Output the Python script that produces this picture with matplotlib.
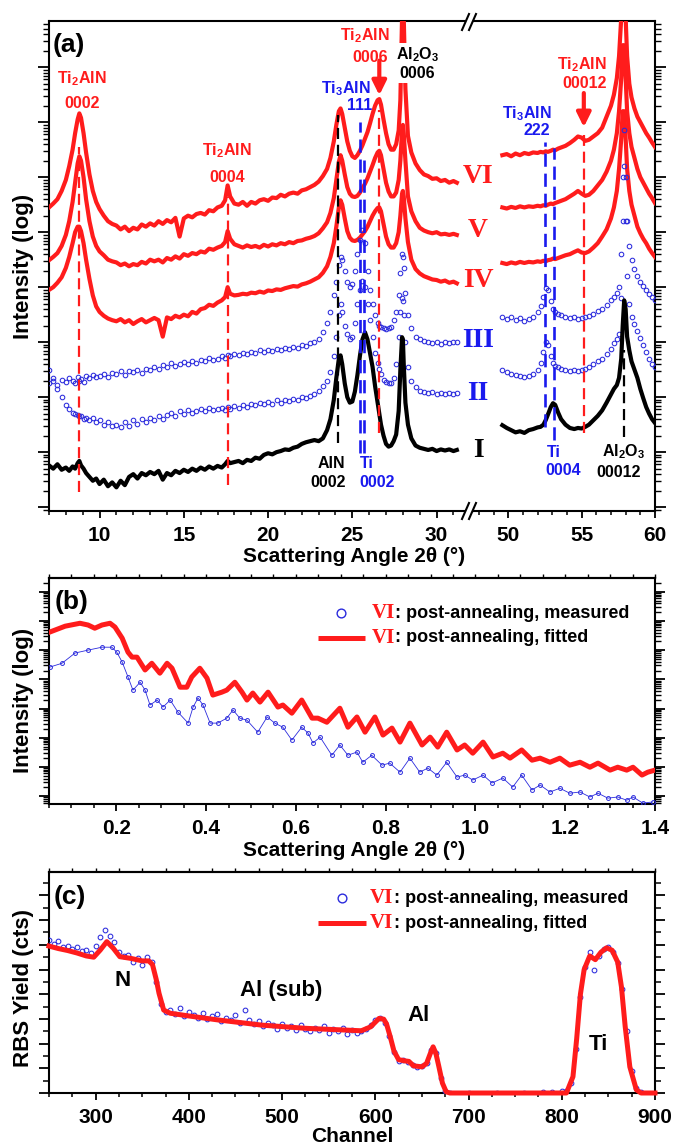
import numpy as np
import matplotlib
matplotlib.use("Agg")
import matplotlib.pyplot as plt
from matplotlib.lines import Line2D
from matplotlib.patches import Polygon
from matplotlib.ticker import MultipleLocator, LogLocator, NullFormatter, FormatStrFormatter

# ======================= DATA =======================
# Panel (a): scattering angle (deg) and log10 intensity (arbitrary offsets)
A_L = [7.0, 7.25, 7.5, 7.75, 8.0, 8.2, 8.4, 8.55, 8.7, 8.8,
       8.9, 9.05, 9.2, 9.4, 9.6, 9.8, 10.0, 10.25, 10.5, 10.75,
       11.0, 11.25, 11.5, 11.75, 12.0, 12.25, 12.5, 12.75, 13.0, 13.25,
       13.5, 13.75, 14.0, 14.25, 14.5, 14.75, 15.0, 15.25, 15.5, 15.75,
       16.0, 16.25, 16.5, 16.75, 17.0, 17.25, 17.45, 17.6, 17.75, 18.0,
       18.25, 18.5, 18.75, 19.0, 19.25, 19.5, 19.75, 20.0, 20.25, 20.5,
       20.75, 21.0, 21.25, 21.5, 21.75, 22.0, 22.25, 22.5, 22.75, 23.0,
       23.25, 23.5, 23.7, 23.9, 24.05, 24.2, 24.3, 24.4, 24.55, 24.7,
       24.85, 25.0, 25.15, 25.3, 25.45, 25.6, 25.75, 25.9, 26.05, 26.2,
       26.35, 26.5, 26.6, 26.7, 26.85, 27.0, 27.15, 27.3, 27.45, 27.6,
       27.75, 27.85, 27.95, 28.0, 28.05, 28.15, 28.3, 28.5, 28.75, 29.0,
       29.25, 29.5, 29.75, 30.0, 30.25, 30.5, 30.75, 31.0, 31.2]

VI_L = [5.45, 5.52, 5.6, 5.75, 5.95, 6.2, 6.5, 6.8, 7.05, 7.16,
        7.08, 6.8, 6.45, 6.05, 5.75, 5.55, 5.42, 5.3, 5.2, 5.15,
        5.12, 5.05, 5.1, 5.02, 5.08, 5.05, 5.14, 5.1, 5.16, 5.12,
        5.2, 5.15, 5.22, 5.18, 5.26, 4.92, 5.25, 5.3, 5.27, 5.33,
        5.35, 5.32, 5.4, 5.38, 5.45, 5.48, 5.58, 5.85, 5.65, 5.52,
        5.5, 5.55, 5.48, 5.55, 5.52, 5.58, 5.6, 5.57, 5.63, 5.62,
        5.68, 5.65, 5.7, 5.72, 5.7, 5.76, 5.78, 5.82, 5.86, 5.92,
        6.02, 6.15, 6.35, 6.65, 6.95, 7.2, 7.25, 7.15, 6.9, 6.65,
        6.48, 6.38, 6.35, 6.4, 6.48, 6.58, 6.7, 6.82, 6.98, 7.15,
        7.3, 7.4, 7.42, 7.32, 7.05, 6.8, 6.6, 6.5, 6.5, 6.6,
        6.85, 7.4, 8.9, 9.6, 8.9, 7.6, 6.75, 6.45, 6.25, 6.13,
        6.05, 6.02, 5.97, 5.98, 5.93, 5.95, 5.9, 5.93, 5.9]

V_L = [4.49, 4.55, 4.62, 4.75, 4.95, 5.2, 5.55, 5.9, 6.25, 6.38,
       6.3, 6.0, 5.6, 5.2, 4.92, 4.75, 4.65, 4.58, 4.5, 4.47,
       4.45, 4.4, 4.43, 4.38, 4.42, 4.4, 4.46, 4.43, 4.5, 4.47,
       4.5, 4.45, 4.53, 4.5, 4.56, 4.52, 4.6, 4.57, 4.62, 4.6,
       4.65, 4.63, 4.7, 4.68, 4.72, 4.75, 4.82, 5.02, 4.88, 4.78,
       4.75, 4.72, 4.76, 4.73, 4.75, 4.72, 4.77, 4.74, 4.78, 4.76,
       4.8, 4.78, 4.82, 4.8, 4.84, 4.85, 4.88, 4.9, 4.93, 4.98,
       5.07, 5.18, 5.35, 5.62, 5.95, 6.28, 6.4, 6.3, 6.05, 5.82,
       5.7, 5.65, 5.64, 5.66, 5.72, 5.8, 5.88, 5.98, 6.1, 6.22,
       6.35, 6.45, 6.48, 6.4, 6.15, 5.9, 5.74, 5.65, 5.65, 5.72,
       5.95, 6.3, 6.85, 6.95, 6.8, 6.3, 5.65, 5.38, 5.2, 5.08,
       5.03, 5.0, 4.98, 5.0, 4.96, 4.97, 4.95, 4.97, 4.95]

IV_L = [3.95, 4.0, 4.08, 4.18, 4.35, 4.55, 4.8, 5.0, 5.1, 5.1,
        5.02, 4.8, 4.5, 4.15, 3.85, 3.65, 3.55, 3.48, 3.43, 3.4,
        3.38, 3.42, 3.36, 3.4, 3.33, 3.38, 3.42, 3.36, 3.4, 3.44,
        3.4, 3.1, 3.45, 3.42, 3.48, 3.45, 3.5, 3.47, 3.55, 3.52,
        3.6, 3.62, 3.68, 3.66, 3.72, 3.76, 3.82, 4.0, 3.88, 3.85,
        3.86, 3.88, 3.87, 3.9, 3.89, 3.92, 3.9, 3.94, 3.93, 3.96,
        3.95, 3.98, 4.0, 4.02, 4.01, 4.05, 4.07, 4.1, 4.14, 4.18,
        4.26, 4.38, 4.55, 4.8, 5.1, 5.45, 5.58, 5.5, 5.25, 5.02,
        4.9, 4.85, 4.84, 4.86, 4.9, 4.96, 5.02, 5.1, 5.2, 5.3,
        5.38, 5.44, 5.45, 5.38, 5.15, 4.92, 4.78, 4.72, 4.72, 4.8,
        5.0, 5.3, 5.7, 5.75, 5.65, 5.25, 4.82, 4.5, 4.33, 4.25,
        4.2, 4.17, 4.14, 4.13, 4.1, 4.12, 4.08, 4.1, 4.07]

III_L = [2.25, 2.3, 2.22, 2.32, 2.28, 2.35, 2.3, 2.26, 2.36, 2.3,
         2.33, 2.28, 2.38, 2.34, 2.4, 2.36, 2.38, 2.42, 2.37, 2.44,
         2.42, 2.47, 2.4, 2.48, 2.45, 2.5, 2.44, 2.52, 2.5, 2.55,
         2.52, 2.58, 2.55, 2.62, 2.57, 2.6, 2.64, 2.6, 2.66, 2.63,
         2.68, 2.65, 2.72, 2.68, 2.7, 2.75, 2.72, 2.76, 2.74, 2.78,
         2.76, 2.8, 2.78, 2.82, 2.8, 2.85, 2.82, 2.86, 2.84, 2.88,
         2.86, 2.9, 2.88, 2.92, 2.9, 2.95, 2.93, 2.98, 3.0, 3.05,
         3.18, 3.35, 3.55, 3.85, 4.1, 4.4, 4.55, 4.5, 4.3, 4.1,
         4.0, 4.05, 4.3, 4.6, 4.85, 5.04, 4.8, 4.3, 3.95, 3.7,
         3.5, 3.35, 3.3, 3.28, 3.25, 3.24, 3.25, 3.28, 3.4, 3.55,
         3.85, 4.25, 4.6, 4.55, 4.35, 3.9, 3.5, 3.25, 3.1, 3.05,
         3.02, 3.0, 2.98, 3.0, 2.97, 3.0, 2.98, 3.01, 3.0]

II_L = [2.5, 2.35, 2.15, 2.0, 1.85, 1.78, 1.72, 1.7, 1.68, 1.65,
        1.66, 1.6, 1.63, 1.58, 1.62, 1.55, 1.58, 1.5, 1.55, 1.47,
        1.5, 1.45, 1.55, 1.48, 1.58, 1.52, 1.6, 1.55, 1.62, 1.58,
        1.65, 1.6, 1.68, 1.72, 1.66, 1.74, 1.7, 1.76, 1.72, 1.75,
        1.78, 1.74, 1.8, 1.76, 1.78, 1.8, 1.77, 1.82, 1.79, 1.84,
        1.8, 1.85, 1.83, 1.88, 1.85, 1.9, 1.87, 1.92, 1.88, 1.94,
        1.9, 1.95, 1.93, 1.97, 1.95, 2.0, 1.98, 2.02, 2.06, 2.12,
        2.2, 2.3, 2.45, 2.75, 3.1, 3.5, 3.7, 3.55, 3.3, 3.15,
        3.06, 3.1, 3.35, 3.7, 3.95, 4.12, 4.0, 3.7, 3.4, 3.1,
        2.8, 2.62, 2.52, 2.42, 2.32, 2.27, 2.25, 2.26, 2.35, 2.6,
        3.1, 3.55, 3.8, 3.75, 3.5, 3.0, 2.55, 2.3, 2.18, 2.12,
        2.1, 2.08, 2.09, 2.06, 2.08, 2.05, 2.07, 2.06, 2.07]

I_L = [0.76, 0.7, 0.78, 0.68, 0.72, 0.66, 0.74, 0.7, 0.8, 0.84,
       0.76, 0.7, 0.62, 0.55, 0.48, 0.52, 0.42, 0.5, 0.38, 0.45,
       0.36, 0.48, 0.4, 0.55, 0.6, 0.52, 0.62, 0.58, 0.64, 0.6,
       0.66, 0.5, 0.62, 0.58, 0.66, 0.62, 0.68, 0.64, 0.7, 0.66,
       0.72, 0.68, 0.74, 0.7, 0.75, 0.72, 0.78, 0.84, 0.8, 0.82,
       0.84, 0.8, 0.86, 0.84, 0.9, 0.88, 0.95, 0.98, 0.96, 1.0,
       1.02, 1.05, 1.04, 1.08, 1.1, 1.15, 1.18, 1.2, 1.22, 1.2,
       1.25, 1.4, 1.6, 1.95, 2.35, 2.7, 2.76, 2.6, 2.25, 2.0,
       1.9, 1.92, 2.1, 2.4, 2.75, 3.05, 3.18, 3.05, 2.8, 2.55,
       2.2, 1.9, 1.7, 1.5, 1.3, 1.15, 1.1, 1.12, 1.2, 1.32,
       1.75, 2.5, 3.09, 3.05, 2.6, 1.9, 1.5, 1.25, 1.12, 1.08,
       1.06, 1.04, 1.06, 1.02, 1.05, 1.03, 1.05, 1.02, 1.04]

A_R = [49.6, 49.9, 50.2, 50.5, 50.8, 51.1, 51.4, 51.7, 52.0, 52.2,
       52.4, 52.55, 52.7, 52.9, 53.05, 53.2, 53.4, 53.6, 53.9, 54.2,
       54.5, 54.75, 55.0, 55.25, 55.5, 55.8, 56.1, 56.4, 56.7, 57.0,
       57.2, 57.4, 57.55, 57.7, 57.8, 57.9, 58.0, 58.1, 58.25, 58.4,
       58.6, 58.8, 59.0, 59.2, 59.4, 59.6, 59.8, 60.0]

VI_R = [6.4, 6.42, 6.38, 6.43, 6.4, 6.44, 6.42, 6.45, 6.44, 6.46,
        6.45, 6.47, 6.46, 6.48, 6.5, 6.49, 6.52, 6.54, 6.57, 6.62,
        6.68, 6.74, 6.72, 6.66, 6.68, 6.74, 6.8, 6.9, 7.1, 7.3,
        7.5, 7.8, 8.2, 8.9, 9.6, 9.6, 8.9, 8.2, 7.7, 7.45,
        7.25, 7.1, 7.0, 6.9, 6.8, 6.72, 6.63, 6.55]
V_R = [5.45, 5.43, 5.46, 5.44, 5.47, 5.45, 5.47, 5.46, 5.48, 5.47,
       5.49, 5.48, 5.5, 5.52, 5.51, 5.53, 5.55, 5.57, 5.6, 5.65,
       5.7, 5.75, 5.7, 5.66, 5.68, 5.75, 5.85, 5.95, 6.1, 6.3,
       6.5, 6.8, 7.2, 7.8, 8.4, 8.4, 7.8, 7.2, 6.8, 6.55,
       6.35, 6.15, 6.0, 5.9, 5.8, 5.7, 5.62, 5.53]
IV_R = [4.44, 4.42, 4.45, 4.43, 4.46, 4.44, 4.46, 4.45, 4.47, 4.46,
        4.48, 4.47, 4.49, 4.5, 4.52, 4.51, 4.53, 4.55, 4.58, 4.6,
        4.64, 4.67, 4.63, 4.62, 4.65, 4.72, 4.8, 4.92, 5.05, 5.25,
        5.45, 5.75, 6.15, 6.7, 7.2, 7.2, 6.7, 6.15, 5.75, 5.5,
        5.3, 5.1, 4.98, 4.88, 4.8, 4.7, 4.62, 4.55]
III_R = [3.45, 3.42, 3.46, 3.4, 3.44, 3.38, 3.42, 3.45, 3.55, 3.65,
         3.82, 3.98, 3.95, 3.75, 3.6, 3.55, 3.52, 3.5, 3.46, 3.44,
         3.45, 3.42, 3.44, 3.46, 3.48, 3.52, 3.56, 3.6, 3.68, 3.76,
         3.82, 3.9, 4.0, 4.6, 6.0, 6.85, 6.0, 5.2, 4.75, 4.5,
         4.33, 4.2, 4.1, 4.02, 3.95, 3.88, 3.82, 3.76]
II_R = [2.49, 2.45, 2.42, 2.4, 2.38, 2.36, 2.38, 2.42, 2.5, 2.62,
        2.82, 3.0, 2.95, 2.75, 2.62, 2.56, 2.55, 2.52, 2.5, 2.48,
        2.49, 2.47, 2.5, 2.52, 2.55, 2.6, 2.65, 2.7, 2.78, 2.88,
        2.98, 3.05, 3.15, 3.8, 5.2, 6.2, 5.2, 4.2, 3.7, 3.45,
        3.33, 3.2, 3.08, 2.95, 2.82, 2.7, 2.6, 2.55]
I_R = [1.49, 1.44, 1.4, 1.36, 1.38, 1.35, 1.4, 1.42, 1.45, 1.46,
       1.5, 1.58, 1.68, 1.82, 1.89, 1.86, 1.72, 1.6, 1.5, 1.44,
       1.42, 1.44, 1.43, 1.46, 1.5, 1.58, 1.66, 1.76, 1.9, 2.05,
       2.15, 2.22, 2.35, 2.7, 3.3, 3.76, 3.6, 3.1, 2.85, 2.65,
       2.5, 2.35, 2.15, 1.98, 1.82, 1.7, 1.6, 1.53]

# reference (peak) lines in (a): angle, log10 bottom, log10 top
LINES_RED_L = [(8.8, 0.27, 6.55), (17.6, 0.40, 5.64), (26.6, 1.35, 7.22)]
LINES_BLK_L = [(24.15, 1.16, 7.13)]
LINES_BLU_L = [(25.45, 0.98, 7.00), (25.68, 0.98, 6.31)]
LINES_RED_R = [(55.15, 1.35, 6.76)]
LINES_BLU_R = [(52.5, 1.45, 6.64), (53.1, 1.22, 6.53)]
LINES_BLK_R = [(57.9, 1.27, 2.85)]

# Panel (b): XRR, angle (deg) and log10 intensity
B_FIT_X = [0.052, 0.086, 0.119, 0.137, 0.152, 0.168, 0.186, 0.197, 0.213, 0.226,
           0.235, 0.246, 0.257, 0.264, 0.279, 0.297, 0.313, 0.324, 0.342, 0.357,
           0.368, 0.386, 0.402, 0.415, 0.435, 0.446, 0.464, 0.48, 0.491, 0.504,
           0.52, 0.538, 0.56, 0.571, 0.591, 0.613, 0.636, 0.649, 0.669, 0.698,
           0.716, 0.736, 0.754, 0.776, 0.794, 0.814, 0.832, 0.854, 0.881, 0.899,
           0.916, 0.936, 0.959, 0.976, 0.994, 1.017, 1.039, 1.061, 1.077, 1.103,
           1.126, 1.144, 1.166, 1.188, 1.21, 1.233, 1.255, 1.273, 1.3, 1.317,
           1.337, 1.351, 1.371, 1.384, 1.4]
B_FIT_Y = [5.62, 5.82, 5.92, 5.86, 5.75, 5.86, 5.92, 5.79, 5.41, 4.93,
           4.76, 4.76, 4.49, 4.32, 4.55, 4.21, 4.55, 4.38, 3.73, 3.73,
           4.08, 4.38, 4.04, 3.46, 3.56, 3.63, 3.9, 3.56, 3.29, 3.53,
           3.22, 3.56, 3.05, 3.12, 2.84, 3.29, 2.67, 2.67, 2.53, 3.01,
           2.36, 2.71, 2.19, 2.71, 2.09, 2.33, 1.85, 2.5, 1.75, 2.02,
           1.68, 2.19, 1.58, 1.75, 1.47, 1.85, 1.34, 1.47, 1.3, 1.58,
           1.23, 1.3, 1.16, 1.3, 1.06, 1.16, 0.99, 1.13, 0.89, 0.99,
           0.89, 0.99, 0.72, 0.82, 0.89]
B_MEAS_X = [0.052, 0.079, 0.108, 0.137, 0.168, 0.19, 0.201, 0.213, 0.226, 0.237,
            0.253, 0.264, 0.275, 0.291, 0.304, 0.32, 0.337, 0.36, 0.371, 0.382,
            0.393, 0.409, 0.426, 0.446, 0.46, 0.475, 0.491, 0.515, 0.536, 0.553,
            0.571, 0.591, 0.613, 0.627, 0.638, 0.654, 0.68, 0.698, 0.716, 0.736,
            0.749, 0.769, 0.792, 0.809, 0.832, 0.854, 0.876, 0.894, 0.914, 0.936,
            0.959, 0.976, 0.994, 1.017, 1.037, 1.061, 1.083, 1.103, 1.126, 1.144,
            1.166, 1.188, 1.21, 1.233, 1.255, 1.273, 1.295, 1.317, 1.337, 1.351,
            1.373, 1.395]
B_MEAS_Y = [4.42, 4.55, 4.9, 5.0, 5.1, 5.1, 4.93, 4.59, 4.08, 3.63,
            3.9, 3.63, 3.12, 3.29, 3.05, 3.29, 2.88, 2.5, 3.05, 3.36,
            3.12, 2.5, 2.5, 2.67, 2.95, 2.67, 2.6, 2.19, 2.71, 2.5,
            2.36, 1.92, 2.36, 2.16, 1.82, 2.02, 1.4, 1.75, 1.4, 1.51,
            1.16, 1.4, 1.06, 1.13, 0.82, 1.3, 0.82, 0.96, 0.72, 1.16,
            0.65, 0.72, 0.55, 0.72, 0.45, 0.62, 0.31, 0.72, 0.21, 0.38,
            0.14, 0.27, 0.1, 0.14, -0.03, 0.1, -0.07, -0.03, -0.14, -0.03,
            -0.24, -0.2]

# Panel (c): RBS, channel and yield (arbitrary units)
C_FIT_X = [250, 260, 270, 280, 290, 298, 305, 312, 319, 326,
           338, 350, 357, 361, 365, 368, 373, 380, 400, 431,
           478, 525, 585, 595, 604, 609, 612, 616, 620, 625,
           632, 636, 641, 650, 655, 659, 662, 665, 668, 672,
           676, 680, 805, 812, 816, 820, 824, 830, 836, 842,
           848, 854, 860, 864, 868, 873, 880, 885, 900]
C_FIT_Y = [5.95, 5.85, 5.77, 5.67, 5.55, 5.5, 5.79, 6.13, 5.86, 5.52,
           5.45, 5.35, 5.35, 5.2, 4.6, 4.04, 3.36, 3.23, 3.12, 2.96,
           2.75, 2.62, 2.52, 2.68, 3.02, 2.99, 2.8, 2.28, 1.7, 1.35,
           1.3, 1.28, 1.1, 1.06, 1.2, 1.6, 1.87, 1.6, 1.1, 0.4,
           0.05, 0.0, 0.0, 0.66, 2.2, 4.0, 5.0, 5.55, 5.4, 5.7,
           5.88, 5.78, 5.3, 4.3, 2.7, 1.06, 0.13, 0.0, 0.0]
C_MEAS_X = [250, 255, 260, 265, 270, 275, 280, 285, 290, 295,
            300, 305, 310, 315, 320, 325, 330, 335, 340, 345,
            350, 355, 360, 365, 370, 375, 380, 385, 390, 395,
            400, 405, 410, 415, 420, 425, 430, 435, 440, 445,
            450, 455, 460, 465, 470, 475, 480, 485, 490, 495,
            500, 505, 510, 515, 520, 525, 530, 535, 540, 545,
            550, 555, 560, 565, 570, 575, 580, 585, 590, 595,
            600, 605, 610, 615, 620, 625, 630, 635, 640, 645,
            650, 655, 660, 665, 670, 675, 680, 700, 730, 760,
            780, 790, 800, 805, 810, 815, 820, 825, 830, 835,
            840, 845, 850, 855, 860, 865, 870, 875, 880, 885]
C_MEAS_Y = [6.2, 6.05, 6.15, 5.9, 5.95, 5.85, 5.9, 5.75, 5.8, 5.65,
            5.95, 6.3, 6.6, 6.35, 6.1, 5.7, 5.55, 5.6, 5.3, 5.45,
            5.2, 5.5, 5.3, 4.5, 3.6, 3.3, 3.35, 3.2, 3.45, 3.1,
            3.3, 3.15, 3.05, 3.25, 3.0, 3.1, 3.2, 2.9, 3.05, 2.95,
            3.15, 2.85, 3.35, 2.95, 2.8, 2.9, 2.7, 2.85, 2.75, 2.6,
            2.8, 2.65, 2.7, 2.55, 2.75, 2.6, 2.5, 2.65, 2.55, 2.7,
            2.45, 2.6, 2.5, 2.65, 2.4, 2.55, 2.45, 2.5, 2.6, 2.75,
            2.95, 3.05, 2.85, 2.3, 1.65, 1.3, 1.35, 1.25, 1.15, 1.05,
            1.1, 1.2, 1.75, 1.6, 0.6, 0.1, 0.02, 0.0, 0.02, 0.0,
            0.05, 0.06, 0.08, 0.1, 0.4, 1.8, 3.9, 5.1, 5.7, 5.0,
            5.55, 5.85, 5.9, 5.7, 5.25, 4.2, 2.5, 0.9, 0.2, 0.05]

for nm, xx, yy in [("VI_L", A_L, VI_L), ("V_L", A_L, V_L), ("IV_L", A_L, IV_L),
                   ("III_L", A_L, III_L), ("II_L", A_L, II_L), ("I_L", A_L, I_L),
                   ("VI_R", A_R, VI_R), ("V_R", A_R, V_R), ("IV_R", A_R, IV_R),
                   ("III_R", A_R, III_R), ("II_R", A_R, II_R), ("I_R", A_R, I_R),
                   ("B_FIT", B_FIT_X, B_FIT_Y), ("B_MEAS", B_MEAS_X, B_MEAS_Y),
                   ("C_FIT", C_FIT_X, C_FIT_Y), ("C_MEAS", C_MEAS_X, C_MEAS_Y)]:
    if len(xx) != len(yy):
        raise ValueError(f"{nm}: {len(xx)} vs {len(yy)}")

# ======================= STYLE =======================
W, H = 683, 1144
RED = '#ff1c1c'
BLUE = '#1a1aee'
MBLUE = '#2b2bdd'
BLACK = '#000000'
SANS = ['Liberation Sans', 'DejaVu Sans']
SERIF = ['Liberation Serif', 'DejaVu Serif']
plt.rcParams['font.family'] = SANS
plt.rcParams['font.weight'] = 'bold'
plt.rcParams['mathtext.fontset'] = 'custom'
plt.rcParams['mathtext.rm'] = 'Liberation Sans:bold'
plt.rcParams['mathtext.it'] = 'Liberation Sans:italic:bold'
plt.rcParams['mathtext.bf'] = 'Liberation Sans:bold'
plt.rcParams['axes.linewidth'] = 1.5

fig = plt.figure(figsize=(W / 100, H / 100), dpi=100)


def rect(x0, y0, x1, y1):
    return [x0 / W, 1 - y1 / H, (x1 - x0) / W, (y1 - y0) / H]


def L(v):
    return 10.0 ** np.asarray(v, dtype=float)


def style_x(ax, major, minor, labels=True, fmt=None):
    ax.xaxis.set_major_locator(MultipleLocator(major))
    ax.xaxis.set_minor_locator(MultipleLocator(minor))
    if fmt:
        ax.xaxis.set_major_formatter(FormatStrFormatter(fmt))
    ax.tick_params(axis='x', which='major', direction='out', length=5.0, width=1.3,
                   top=False, labelsize=15, pad=6.0, labelbottom=labels)
    ax.tick_params(axis='x', which='minor', direction='out', length=3.2, width=1.1, top=False)


def style_logy(ax, left=True, right=True, maj=7.5, mino=4.2):
    ax.set_yscale('log')
    ax.yaxis.set_major_locator(LogLocator(base=10, numticks=30))
    ax.yaxis.set_minor_locator(LogLocator(base=10, subs=np.arange(2, 10), numticks=30))
    ax.yaxis.set_major_formatter(NullFormatter())
    ax.yaxis.set_minor_formatter(NullFormatter())
    ax.tick_params(axis='y', which='major', direction='out', length=maj, width=1.3,
                   left=left, right=right, labelleft=False, labelright=False)
    ax.tick_params(axis='y', which='minor', direction='out', length=mino, width=1.0,
                   left=left, right=right)


# ======================= PANEL (a) =======================
axL = fig.add_axes(rect(49, 21, 473, 511))
axR = fig.add_axes(rect(473, 21, 655, 511))
YLIM_A = (L(-0.07), L(8.84))
for ax in (axL, axR):
    style_logy(ax, left=(ax is axL), right=(ax is axR), maj=8, mino=4.5)
    ax.set_ylim(*YLIM_A)
axL.spines['right'].set_visible(False)
axR.spines['left'].set_visible(False)
axL.set_xlim(7, 32.16)
axR.set_xlim(47.6, 60)
style_x(axL, 5, 1)
style_x(axR, 5, 1)

red_curves = [(VI_L, VI_R), (V_L, V_R), (IV_L, IV_R)]
for cl, cr in red_curves:
    axL.plot(A_L, L(cl), color=RED, lw=3.0, solid_joinstyle='round', zorder=3)
    axR.plot(A_R, L(cr), color=RED, lw=3.0, solid_joinstyle='round', zorder=3)
for cl, cr in [(III_L, III_R), (II_L, II_R)]:
    axL.plot(A_L, L(cl), ls='none', marker='o', ms=3.3, mfc='none', mec=MBLUE, mew=0.75, zorder=3)
    axR.plot(A_R, L(cr), ls='none', marker='o', ms=3.3, mfc='none', mec=MBLUE, mew=0.75, zorder=3)
axL.plot(A_L, L(I_L), color=BLACK, lw=3.0, solid_joinstyle='round', zorder=3)
axR.plot(A_R, L(I_R), color=BLACK, lw=3.0, solid_joinstyle='round', zorder=3)


def vlines(ax, lst, color, lw=1.6, dashes=(5, 2.6)):
    for x, y0, y1 in lst:
        ax.plot([x, x], L([y0, y1]), color=color, lw=lw, dashes=dashes, zorder=4)


vlines(axL, LINES_RED_L, RED)
vlines(axL, LINES_BLK_L, BLACK)
vlines(axL, LINES_BLU_L, BLUE, lw=1.9)
vlines(axR, LINES_RED_R, RED)
vlines(axR, LINES_BLU_R, BLUE, lw=1.9)
vlines(axR, LINES_BLK_R, BLACK)

PK = 11.5
white = dict(fc='white', ec='none', pad=1.2)
labels_L = [("Ti$_\\mathrm{2}$AlN", 8.94, 7.71, RED, None),
            ("0002", 8.94, 7.25, RED, None),
            ("Ti$_\\mathrm{2}$AlN", 17.56, 6.40, RED, None),
            ("0004", 17.56, 5.91, RED, None),
            ("Ti$_\\mathrm{3}$AlN", 24.63, 7.53, BLUE, None),
            ("111", 25.46, 7.22, BLUE, None),
            ("Ti$_\\mathrm{2}$AlN", 25.75, 8.49, RED, None),
            ("0006", 26.05, 8.09, RED, None),
            ("Al$_\\mathrm{2}$O$_\\mathrm{3}$", 28.9, 8.15, BLACK, white),
            ("0006", 28.84, 7.80, BLACK, white),
            ("AlN", 23.74, 0.71, BLACK, None),
            ("0002", 23.56, 0.36, BLACK, None),
            ("Ti", 25.87, 0.71, BLUE, None),
            ("0002", 26.47, 0.36, BLUE, None)]
labels_R = [("Ti$_\\mathrm{2}$AlN", 55.02, 7.96, RED, None),
            ("00012", 55.22, 7.62, RED, None),
            ("Ti$_\\mathrm{3}$AlN", 51.27, 7.07, BLUE, None),
            ("222", 51.95, 6.76, BLUE, None),
            ("Ti", 53.11, 0.91, BLUE, None),
            ("0004", 53.72, 0.58, BLUE, None),
            ("Al$_\\mathrm{2}$O$_\\mathrm{3}$", 57.87, 0.93, BLACK, None),
            ("00012", 57.53, 0.55, BLACK, None)]
for ax, lst in ((axL, labels_L), (axR, labels_R)):
    for s, x, y, c, bb in lst:
        ax.text(x, L(y), s, color=c, fontsize=PK, ha='center', va='baseline',
                bbox=bb, zorder=6)

arrow = dict(arrowstyle='-|>,head_width=0.42,head_length=0.85', lw=3.0, color=RED,
             shrinkA=0, shrinkB=0)
axL.annotate('', xy=(26.6, L(7.49)), xytext=(26.6, L(8.12)), arrowprops=arrow, zorder=6)
axR.annotate('', xy=(55.15, L(6.91)), xytext=(55.15, L(7.53)), arrowprops=arrow, zorder=6)

axL.text(0.008, 0.951, '(a)', transform=axL.transAxes, fontsize=19, ha='left', va='center')

# Roman numerals between the two halves (figure pixel positions)
for s, yb, c in [('VI', 183, RED), ('V', 237, RED), ('IV', 287, RED),
                 ('III', 347, BLUE), ('II', 400, BLUE), ('I', 457, BLACK)]:
    fig.text(478 / W, 1 - yb / H, s, color=c, family=SERIF, fontsize=20, weight='bold',
             ha='center', va='baseline')

# broken-axis marks
for yc in (22, 511):
    poly = Polygon([((462) / W, 1 - (yc + 8) / H), ((469) / W, 1 - (yc - 8) / H),
                    ((476) / W, 1 - (yc - 8) / H), ((469) / W, 1 - (yc + 8) / H)],
                   closed=True, transform=fig.transFigure, fc='white', ec='none', zorder=20)
    fig.add_artist(poly)
    for dx in (0, 7):
        fig.add_artist(Line2D([(462 + dx) / W, (469 + dx) / W],
                              [1 - (yc + 8) / H, 1 - (yc - 8) / H],
                              transform=fig.transFigure, color='k', lw=1.5, zorder=21))

fig.text(24 / W, 1 - 266 / H, 'Intensity (log)', rotation=90, fontsize=16,
         ha='center', va='center')
fig.text(354 / W, 1 - 557 / H, 'Scattering Angle 2θ (°)', fontsize=15,
         ha='center', va='center')

# ======================= PANEL (b) =======================
axb = fig.add_axes(rect(49, 578, 655, 804))
style_logy(axb, maj=7, mino=4)
axb.set_ylim(L(-0.27), L(7.47))
axb.set_xlim(0.05, 1.4)
style_x(axb, 0.2, 0.05, fmt='%.1f')
sb = axb.secondary_xaxis('top')
sb.xaxis.set_major_locator(MultipleLocator(0.2))
sb.xaxis.set_minor_locator(MultipleLocator(0.05))
sb.tick_params(axis='x', which='both', direction='out', length=3, width=1.0,
               labeltop=False, labelbottom=False)

axb.plot(B_MEAS_X, L(B_MEAS_Y), color=MBLUE, lw=0.6, marker='o', ms=2.8, mfc='none',
         mec=MBLUE, mew=0.7, zorder=3)
axb.plot(B_FIT_X, L(B_FIT_Y), color=RED, lw=3.6, solid_joinstyle='round', zorder=4)
axb.text(0.01, 0.894, '(b)', transform=axb.transAxes, fontsize=19, ha='left', va='center')


def legend_rows(ax, fy1, fy2, fcirc, fl0, fl1, ftext):
    ax.plot([fcirc], [fy1], transform=ax.transAxes, marker='o', ms=6.3, mfc='none',
            mec=MBLUE, mew=1.0, clip_on=False, ls='none')
    ax.plot([fl0, fl1], [fy2, fy2], transform=ax.transAxes, color=RED, lw=3.6,
            clip_on=False, solid_capstyle='butt')
    for fy, rest in ((fy1, ': post-annealing, measured'), (fy2, ': post-annealing, fitted')):
        t = ax.text(ftext, fy, 'VI', transform=ax.transAxes, color=RED, family=SERIF,
                    fontsize=15, weight='bold', ha='left', va='center')
        ax.annotate(rest, xy=(1, 0.5), xycoords=t, ha='left', va='center',
                    fontsize=13, color=BLACK)


legend_rows(axb, 0.845, 0.735, 0.482, 0.444, 0.522, 0.533)

fig.text(24 / W, 1 - 700 / H, 'Intensity (log)', rotation=90, fontsize=16,
         ha='center', va='center')
fig.text(354 / W, 1 - 850 / H, 'Scattering Angle 2θ (°)', fontsize=15,
         ha='center', va='center')

# ======================= PANEL (c) =======================
axc = fig.add_axes(rect(49, 872, 655, 1093))
axc.set_xlim(250, 900)
axc.set_ylim(0, 8.95)
style_x(axc, 100, 25)
sc = axc.secondary_xaxis('top')
sc.xaxis.set_major_locator(MultipleLocator(100))
sc.xaxis.set_minor_locator(MultipleLocator(25))
sc.tick_params(axis='x', which='both', direction='out', length=3, width=1.0,
               labeltop=False, labelbottom=False)
axc.yaxis.set_major_locator(MultipleLocator(1))
axc.yaxis.set_minor_locator(MultipleLocator(0.5))
axc.tick_params(axis='y', which='major', direction='out', length=7.5, width=1.3,
                left=True, right=True, labelleft=False)
axc.tick_params(axis='y', which='minor', direction='out', length=4.5, width=1.1,
                left=True, right=True)

axc.plot(C_MEAS_X, C_MEAS_Y, ls='none', marker='o', ms=3.4, mfc='none', mec=MBLUE,
         mew=0.75, zorder=3)
axc.plot(C_FIT_X, C_FIT_Y, color=RED, lw=3.6, solid_joinstyle='round', zorder=4,
         clip_on=False)
axc.text(0.008, 0.887, '(c)', transform=axc.transAxes, fontsize=19, ha='left', va='center')
for s, x, y in [('N', 329, 4.57), ('Al (sub)', 499, 4.17), ('Al', 646, 3.12), ('Ti', 839, 1.98)]:
    axc.text(x, y, s, fontsize=16, ha='center', va='center', color=BLACK)

legend_rows(axc, 0.882, 0.769, 0.4835, 0.444, 0.523, 0.530)

fig.text(24 / W, 1 - 988 / H, 'RBS Yield (cts)', rotation=90, fontsize=16,
         ha='center', va='center')
fig.text(352 / W, 1 - 1136 / H, 'Channel', fontsize=15, ha='center', va='center')

fig.savefig('out.png', dpi=100)
